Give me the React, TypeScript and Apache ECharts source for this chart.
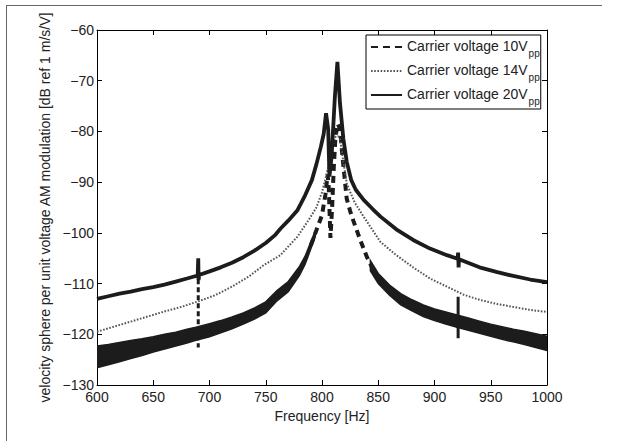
import React, { useEffect, useRef } from 'react';
import * as echarts from 'echarts';

// ---- axis ranges ----
const xRange = [600, 1000];
const yRange = [-130, -60];

// ---- Carrier voltage 20 Vpp (solid) ----
const f20 = [600, 610, 620, 630, 640, 650, 660, 670, 680, 689.5, 690, 690.3, 690.8, 700, 710, 720, 730, 740, 750, 758, 763, 770, 778, 785, 791, 795, 799, 801.5, 803.6, 805.5, 806.6, 808.5, 811.5, 813.7, 816, 819, 822, 826, 830, 837, 845, 852, 866, 881, 896, 911, 920.5, 921, 921.4, 921.8, 940, 955, 970, 985, 1000];
const v20 = [-113.0, -112.5, -112.0, -111.6, -111.1, -110.7, -110.2, -109.6, -109.0, -108.4, -105.0, -109.3, -108.3, -107.6, -106.8, -105.9, -104.8, -103.5, -102.0, -100.5, -99.2, -97.6, -95.6, -92.6, -89.6, -86.5, -83.0, -80.5, -76.4, -79.5, -88.9, -85.0, -73.0, -66.3, -74.5, -81.5, -86.0, -89.6, -91.5, -93.5, -95.3, -96.8, -99.3, -101.4, -103.1, -104.4, -105.1, -103.9, -106.8, -105.2, -106.8, -107.7, -108.5, -109.2, -109.7];

// ---- Carrier voltage 14 Vpp (dotted) ----
const f14 = [600, 615, 630, 645, 660, 675, 690, 705, 720, 735, 748, 763, 770, 778, 785, 790, 795, 800, 804, 808, 811, 813.5, 816, 819, 822, 829, 837, 852, 866, 881, 896, 911, 926, 940, 955, 970, 985, 1000];
const v14 = [-119.5, -118.5, -117.5, -116.5, -115.5, -114.6, -113.5, -112.3, -110.6, -108.6, -106.4, -104.4, -102.7, -100.8, -98.5, -96.8, -95.0, -92.0, -88.5, -84.5, -81.5, -80.5, -81.5, -86.0, -90.3, -94.0, -96.8, -101.8, -104.4, -106.8, -109.0, -110.6, -112.2, -113.2, -114.0, -114.6, -115.2, -115.6];

// ---- Carrier voltage 10 Vpp: noisy band below the resonance ----
const f10Left = [600, 610, 620, 630, 640, 650, 660, 670, 680, 688, 700, 710, 720, 730, 740, 750, 760, 770, 780, 785, 790, 794];
const v10LeftHi = [-122.3, -122.0, -121.6, -121.2, -120.9, -120.5, -120.0, -119.6, -119.0, -118.6, -117.9, -117.3, -116.6, -115.8, -114.8, -113.6, -111.4, -109.6, -106.6, -104.6, -101.8, -99.6];
const v10LeftLo = [-126.6, -126.0, -125.4, -124.8, -124.2, -123.5, -122.9, -122.3, -121.7, -121.2, -120.5, -119.7, -118.9, -118.0, -117.0, -115.8, -113.4, -111.6, -108.4, -106.2, -103.2, -100.8];

// ---- Carrier voltage 10 Vpp: smooth dashed part around the resonance ----
const f10Mid = [790, 795, 800, 803, 805, 806, 807.5, 809, 810.5, 812, 814, 816, 818, 820, 822, 825, 828, 834, 840, 846];
const v10Mid = [-102.5, -99.5, -96.5, -92.5, -88.5, -91.0, -101.0, -95.0, -87.0, -81.0, -78.5, -79.5, -84.5, -89.0, -93.3, -95.7, -97.7, -101.4, -104.8, -107.5];

// ---- Carrier voltage 10 Vpp: noisy band above the resonance ----
const f10Right = [843, 850, 860, 870, 880, 890, 900, 910, 920, 930, 940, 950, 960, 970, 980, 990, 1000];
const v10RightHi = [-105.5, -108.0, -110.3, -112.0, -113.2, -114.2, -115.0, -115.6, -116.2, -116.8, -117.4, -118.0, -118.5, -119.0, -119.4, -119.9, -120.4];
const v10RightLo = [-107.5, -110.0, -112.3, -114.2, -115.4, -116.5, -117.3, -118.0, -118.6, -119.2, -119.8, -120.4, -121.0, -121.5, -122.0, -122.6, -123.2];

// ---- 10 Vpp interference spikes ----
const spikeF = [690, 921];
const spikeHi = [-106.0, -112.6];
const spikeLo = [-122.6, -120.8];

const names = ['Carrier voltage 10Vpp', 'Carrier voltage 14Vpp', 'Carrier voltage 20Vpp'];

const DARK = '#1c1c1c';
const FONT = '"Liberation Sans", Arial, Helvetica, sans-serif';

const pairs = (xs: number[], ys: number[]) => xs.map((x, i) => [x, ys[i]]);

const band = (name: string, f: number[], hi: number[], lo: number[]) => ({
  name,
  type: 'custom',
  silent: true,
  clip: true,
  data: [[f[0], hi[0]]],
  renderItem: (_params: any, api: any) => {
    const pts: number[][] = [];
    for (let i = 0; i < f.length; i++) pts.push(api.coord([f[i], hi[i]]));
    for (let i = f.length - 1; i >= 0; i--) pts.push(api.coord([f[i], lo[i]]));
    return {
      type: 'polygon',
      shape: { points: pts },
      style: { fill: DARK, stroke: DARK, lineWidth: 1.5 },
    };
  },
});

export default function App() {
  const ref = useRef<HTMLDivElement>(null);
  useEffect(() => {
    if (!ref.current) return;
    const chart = echarts.init(ref.current, undefined, { renderer: 'svg' });
    const axisCommon = {
      axisLine: { show: true, onZero: false, lineStyle: { color: '#000', width: 1 } },
      axisTick: { show: true, inside: true, length: 5, lineStyle: { color: '#000', width: 1 } },
      splitLine: { show: false },
    };
    const option: any = {
      animation: false,
      backgroundColor: '#fff',
      textStyle: { fontFamily: FONT },
      grid: { left: 97, right: 72, top: 30, bottom: 56, containLabel: false },
      xAxis: [
        {
          type: 'value', min: xRange[0], max: xRange[1], interval: 50, position: 'bottom',
          name: 'Frequency [Hz]', nameLocation: 'middle', nameGap: 20,
          nameTextStyle: { fontSize: 14, color: '#222', fontFamily: FONT },
          axisLabel: { fontSize: 14, color: '#222', margin: 5, fontFamily: FONT, formatter: (v: number) => String(v) },
          ...axisCommon,
        },
        {
          type: 'value', min: xRange[0], max: xRange[1], interval: 50, position: 'top',
          axisLabel: { show: false },
          ...axisCommon,
        },
      ],
      yAxis: [
        {
          type: 'value', min: yRange[0], max: yRange[1], interval: 10, position: 'left',
          name: 'velocity sphere per unit voltage AM modulation [dB ref 1 m/s/V]',
          nameLocation: 'middle', nameGap: 33,
          nameTextStyle: { fontSize: 14, color: '#222', fontFamily: FONT },
          axisLabel: {
            fontSize: 14, color: '#222', margin: 3, fontFamily: FONT,
            formatter: (v: number) => String(v).replace('-', '\u2212'),
          },
          ...axisCommon,
        },
        {
          type: 'value', min: yRange[0], max: yRange[1], interval: 10, position: 'right',
          axisLabel: { show: false },
          ...axisCommon,
        },
      ],
      legend: {
        data: names,
        orient: 'vertical',
        left: 366,
        top: 35,
        backgroundColor: '#fff',
        borderColor: '#000',
        borderWidth: 1,
        borderRadius: 0,
        padding: [4, 1, 3, 4],
        itemGap: 5,
        itemWidth: 31,
        itemHeight: 10,
        selectedMode: false,
        itemStyle: { opacity: 0, borderWidth: 0 },
        formatter: (name: string) => `{m|${name.slice(0, -2)}}{s|pp}`,
        textStyle: {
          fontFamily: FONT,
          rich: {
            m: { fontSize: 14, color: '#222', verticalAlign: 'top', lineHeight: 16, fontFamily: FONT },
            s: { fontSize: 10, color: '#222', verticalAlign: 'top', lineHeight: 10, padding: [9, 0, 0, 1], fontFamily: FONT },
          },
        },
      },
      graphic: [
        { type: 'line', silent: true, shape: { x1: 6, y1: 5.5, x2: 602, y2: 5.5 }, style: { stroke: '#666', lineWidth: 1 } },
        { type: 'line', silent: true, shape: { x1: 6.5, y1: 5, x2: 6.5, y2: 441 }, style: { stroke: '#666', lineWidth: 1 } },
      ],
      series: [
        band('10 Vpp lower band', f10Left, v10LeftHi, v10LeftLo),
        band('10 Vpp upper band', f10Right, v10RightHi, v10RightLo),
        {
          name: '10 Vpp spike 690',
          type: 'line', symbol: 'none', silent: true,
          data: [[spikeF[0], spikeHi[0]], [spikeF[0], spikeLo[0]]],
          lineStyle: { color: DARK, width: 3, type: [5, 3] },
        },
        {
          name: '10 Vpp spike 921',
          type: 'line', symbol: 'none', silent: true,
          data: [[spikeF[1], spikeHi[1]], [spikeF[1], spikeLo[1]]],
          lineStyle: { color: DARK, width: 3 },
        },
        {
          name: names[0],
          type: 'line', symbol: 'none', silent: true,
          data: pairs(f10Mid, v10Mid),
          lineStyle: { color: DARK, width: 4, type: [7, 5] },
          itemStyle: { color: DARK },
        },
        {
          name: names[1],
          type: 'line', symbol: 'none', silent: true,
          data: pairs(f14, v14),
          lineStyle: { color: '#555', width: 2, type: [1.6, 1.6] },
          itemStyle: { color: '#555' },
        },
        {
          name: names[2],
          type: 'line', symbol: 'none', silent: true,
          data: pairs(f20, v20),
          lineStyle: { color: DARK, width: 3.8 },
          itemStyle: { color: DARK },
        },
      ],
    };
    chart.setOption(option);
    return () => chart.dispose();
  }, []);
  return (
    <div style={{ position: 'absolute', left: 0, top: 0, width: 619, height: 441, background: '#fff' }}>
      <div ref={ref} style={{ width: 619, height: 441 }} />
    </div>
  );
}
